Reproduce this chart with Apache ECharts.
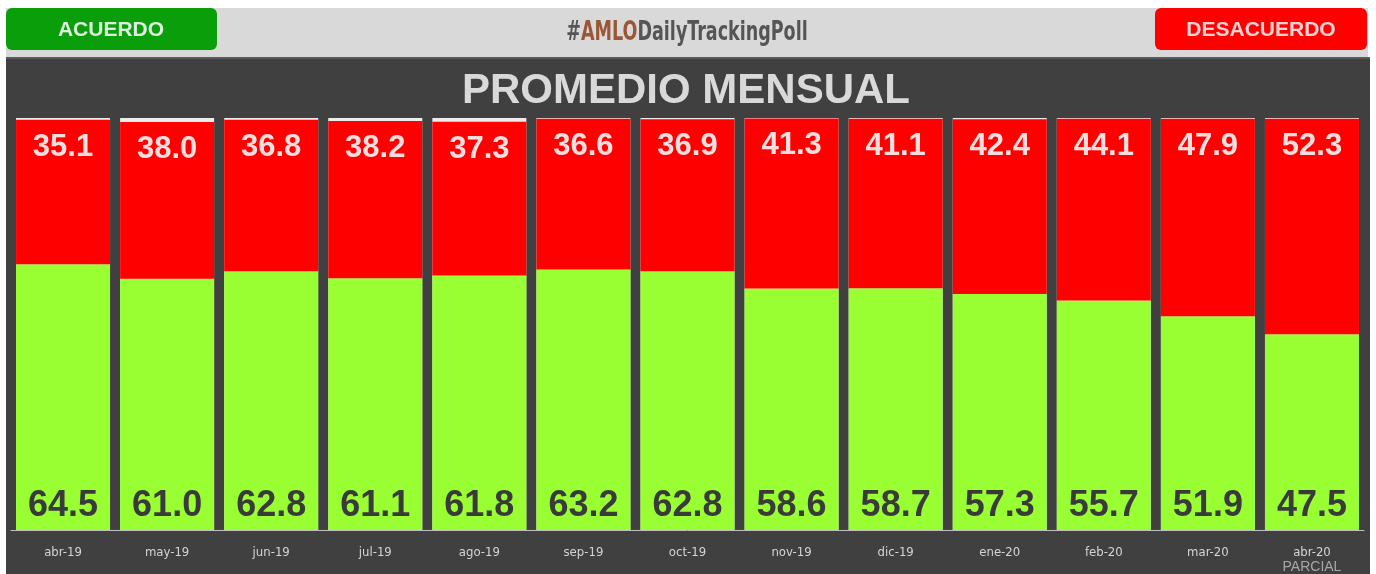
<!DOCTYPE html>
<html>
<head>
<meta charset="utf-8">
<script src="https://cdn.jsdelivr.net/npm/echarts@6/dist/echarts.min.js"></script>
<style>
  html, body { margin: 0; padding: 0; background: #fff; }
  #chart { width: 1376px; height: 574px; }
</style>
</head>
<body>
<div id="chart"></div>
<script>
// meses
const months = ["abr-19", "may-19", "jun-19", "jul-19", "ago-19", "sep-19", "oct-19",
    "nov-19", "dic-19", "ene-20", "feb-20", "mar-20", "abr-20"];
// acuerdo (verde, abajo)
const acuerdo = [64.5, 61.0, 62.8, 61.1, 61.8, 63.2, 62.8, 58.6, 58.7, 57.3, 55.7, 51.9, 47.5];
// desacuerdo (rojo, arriba)
const desacuerdo = [35.1, 38.0, 36.8, 38.2, 37.3, 36.6, 36.9, 41.3, 41.1, 42.4, 44.1, 47.9, 52.3];

const chart = echarts.init(document.getElementById("chart"));

const option = {
    backgroundColor: "#ffffff",
    animation: false,
    graphic: [
        // franja gris de cabecera
        { type: "rect", z: -10, shape: { x: 6, y: 8, width: 1362, height: 50 }, style: { fill: "#d9d9d9" } },
        // panel oscuro
        { type: "rect", z: -10, shape: { x: 6, y: 57, width: 1364, height: 517 }, style: { fill: "#404040" } },
        { type: "rect", z: -9, shape: { x: 6, y: 57, width: 1364, height: 2 }, style: { fill: "#5a5a5a" } },
        // botones
        { type: "rect", z: 5, shape: { x: 6, y: 8, width: 211, height: 42, r: 6 }, style: { fill: "#0a9e0a" } },
        {
            type: "text", z: 6, x: 111, y: 30,
            style: { text: "ACUERDO", fill: "#dcefdc", font: "bold 21px 'Liberation Sans', Arial", align: "center", verticalAlign: "middle" }
        },
        { type: "rect", z: 5, shape: { x: 1155, y: 8, width: 212, height: 42, r: 6 }, style: { fill: "#ff0000" } },
        {
            type: "text", z: 6, x: 1261, y: 30,
            style: { text: "DESACUERDO", fill: "#f6d2d2", font: "bold 21px 'Liberation Sans', Arial", align: "center", verticalAlign: "middle" }
        },
        // hashtag
        {
            type: "text", z: 6, x: 687, y: 33, scaleX: 0.75,
            style: {
                text: "{a|#}{b|AMLO}{a|DailyTrackingPoll}",
                align: "center", verticalAlign: "middle",
                rich: {
                    a: { fill: "#555555", font: "bold 26px 'DejaVu Sans Condensed'" },
                    b: { fill: "#9a5636", font: "bold 26px 'DejaVu Sans Condensed'" }
                }
            }
        },
        // titulo
        {
            type: "text", z: 6, x: 686, y: 91,
            style: { text: "PROMEDIO MENSUAL", fill: "#d9d9d9", font: "bold 42px 'Liberation Sans', Arial", align: "center", verticalAlign: "middle" }
        }
    ],
    grid: { left: 11, right: 12, top: 118, bottom: 44, containLabel: false },
    xAxis: {
        type: "category",
        data: months,
        axisLine: { show: true, lineStyle: { color: "#c0c0c0", width: 1 } },
        axisTick: { show: false },
        axisLabel: {
            margin: 15,
            color: "#d4d4d4",
            fontFamily: "DejaVu Sans Condensed",
            fontSize: 13,
            lineHeight: 15,
            formatter(value, index) {
                if (index === months.length - 1) {
                    return value + "\n{p|PARCIAL}";
                }
                return value;
            },
            rich: {
                p: { color: "#a6a6a6", fontFamily: "Liberation Sans", fontSize: 14, lineHeight: 14 }
            }
        }
    },
    yAxis: {
        type: "value",
        min: 0,
        max: 100,
        show: false,
        splitLine: { show: false }
    },
    series: [
        {
            name: "Acuerdo",
            type: "bar",
            stack: "total",
            barWidth: 94,
            data: acuerdo,
            showBackground: true,
            backgroundStyle: { color: "#ececec" },
            itemStyle: { color: "#99ff33" },
            label: {
                show: true,
                position: "insideBottom",
                distance: 6,
                color: "#3a3a3a",
                fontFamily: "Liberation Sans",
                fontWeight: "bold",
                fontSize: 36,
                formatter: p => p.value.toFixed(1)
            }
        },
        {
            name: "Desacuerdo",
            type: "bar",
            stack: "total",
            barWidth: 94,
            data: desacuerdo,
            itemStyle: { color: "#ff0000" },
            label: {
                show: true,
                position: "insideTop",
                distance: 12,
                color: "#f6dede",
                fontFamily: "Liberation Sans",
                fontWeight: "bold",
                fontSize: 31,
                formatter: p => p.value.toFixed(1)
            }
        }
    ]
};

chart.setOption(option);
</script>
</body>
</html>
